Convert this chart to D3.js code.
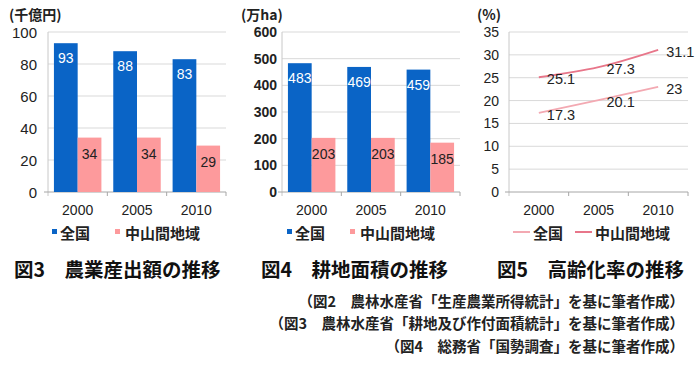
<!DOCTYPE html>
<html>
<head>
<meta charset="utf-8">
<script src="https://cdn.jsdelivr.net/npm/d3@7"></script>
<style>
  body { margin: 0; background: #fff; }
  svg text { font-family: "Liberation Sans", Arial, sans-serif; }
  .jp { font-family: "Noto Sans CJK JP", sans-serif !important; font-weight: bold; }
</style>
</head>
<body>
<svg id="chart" width="700" height="383"></svg>
<script>
var width = 700, height = 383;

// data
var years = ["2000", "2005", "2010"];
var seriesNames = ["全国", "中山間地域"];
var outputZenkoku = [93, 88, 83];
var outputChusankan = [34, 34, 29];
var areaZenkoku = [483, 469, 459];
var areaChusankan = [203, 203, 185];
var agingZenkoku = [17.3, 20.1, 23];
var agingChusankan = [25.1, 27.3, 31.1];
var titles = ["図3\u3000農業産出額の推移", "図4\u3000耕地面積の推移", "図5\u3000高齢化率の推移"];
var units = ["(千億円)", "(万ha)", "(%)"];
var sources = [
    "（図2\u3000農林水産省「生産農業所得統計」を基に筆者作成）",
    "（図3\u3000農林水産省「耕地及び作付面積統計」を基に筆者作成）",
    "（図4\u3000総務省「国勢調査」を基に筆者作成）"
];

var blue = "#0a64c6", pink = "#fd9a9c";
var lineLight = "#f3a9b2", lineDark = "#e8768a";
var gridCol = "#d9d9d9";

var svg = d3.select("#chart");
var plotTop = 32, plotBottom = 192;

function drawFrame(left, right, yMax, step, tickSize, tickGap, tickWeight) {
    var x = d3.scaleBand().domain(years).range([left, right]).paddingInner(0.2).paddingOuter(0.1);
    var y = d3.scaleLinear().domain([0, yMax]).range([plotBottom, plotTop]);
    var g = svg.append("g");
    // grid
    g.selectAll("line.grid")
        .data(d3.range(step, yMax + 0.01, step))
        .enter().append("line")
        .attr("x1", left).attr("x2", right)
        .attr("y1", d => y(d)).attr("y2", d => y(d))
        .attr("stroke", gridCol).attr("stroke-width", 1);
    // y labels
    g.selectAll("text.ytick")
        .data(d3.range(0, yMax + 0.01, step))
        .enter().append("text")
        .attr("x", left - tickGap).attr("y", d => y(d))
        .attr("text-anchor", "end").attr("dominant-baseline", "central")
        .attr("font-size", tickSize).attr("font-weight", tickWeight).attr("fill", "#222")
        .text(d => d);
    // axes
    g.append("line").attr("x1", left).attr("x2", left).attr("y1", plotTop).attr("y2", plotBottom + 4)
        .attr("stroke", "#c8c8c8");
    g.append("line").attr("x1", left - 4).attr("x2", right).attr("y1", plotBottom).attr("y2", plotBottom)
        .attr("stroke", "#a6a6a6");
    var bw = (right - left) / years.length;
    g.selectAll("line.xtick")
        .data(d3.range(1, years.length + 1))
        .enter().append("line")
        .attr("x1", d => left + d * bw).attr("x2", d => left + d * bw)
        .attr("y1", plotBottom).attr("y2", plotBottom + 4)
        .attr("stroke", "#a6a6a6");
    g.selectAll("text.xlab")
        .data(years)
        .enter().append("text")
        .attr("x", d => x(d) + x.bandwidth() / 2).attr("y", 215)
        .attr("text-anchor", "middle").attr("font-size", 14).attr("fill", "#222")
        .text(d => d);
    return {x: x, y: y, g: g};
}

function drawLegendText(lg, x, txt) {
    lg.append("text").attr("class", "jp").attr("x", x).attr("y", 0).attr("dominant-baseline", "central")
        .attr("font-size", 15).attr("fill", "#222").text(txt);
}

function drawBars(cfg) {
    var f = drawFrame(cfg.left, cfg.right, cfg.yMax, cfg.step, cfg.tickSize, cfg.tickGap, cfg.tickWeight);
    var x = f.x, y = f.y, g = f.g;
    var half = x.bandwidth() / 2;
    var rows = years.map((yr, i) => ({year: yr, a: cfg.a[i], b: cfg.b[i]}));
    g.selectAll("rect.a").data(rows).enter().append("rect")
        .attr("x", d => x(d.year)).attr("width", half)
        .attr("y", d => y(d.a)).attr("height", d => plotBottom - y(d.a))
        .attr("fill", blue);
    g.selectAll("rect.b").data(rows).enter().append("rect")
        .attr("x", d => x(d.year) + half).attr("width", half)
        .attr("y", d => y(d.b)).attr("height", d => plotBottom - y(d.b))
        .attr("fill", pink);
    g.selectAll("text.la").data(rows).enter().append("text")
        .attr("x", d => x(d.year) + half / 2).attr("y", d => y(d.a) + 15)
        .attr("text-anchor", "middle").attr("dominant-baseline", "central")
        .attr("font-size", 14).attr("fill", "#fff").text(d => d.a);
    g.selectAll("text.lb").data(rows).enter().append("text")
        .attr("x", d => x(d.year) + half * 1.5).attr("y", d => y(d.b) + 16)
        .attr("text-anchor", "middle").attr("dominant-baseline", "central")
        .attr("font-size", 14).attr("fill", "#222").text(d => d.b);
    // unit
    svg.append("text").attr("class", "jp").attr("x", cfg.unitX).attr("y", 14)
        .attr("dominant-baseline", "central").attr("font-size", 14).attr("fill", "#222")
        .text(units[cfg.idx]);
    // legend
    var lg = svg.append("g").attr("transform", `translate(${cfg.legendX},232)`);
    lg.append("rect").attr("x", 0).attr("y", -3).attr("width", 5).attr("height", 5).attr("fill", blue);
    drawLegendText(lg, 8, seriesNames[0]);
    lg.append("rect").attr("x", 63).attr("y", -3).attr("width", 5).attr("height", 5).attr("fill", pink);
    drawLegendText(lg, 73, seriesNames[1]);
    // title
    svg.append("text").attr("class", "jp").attr("x", cfg.titleX).attr("y", 268)
        .attr("dominant-baseline", "central").attr("font-size", 19.5).attr("fill", "#111")
        .text(titles[cfg.idx]);
}

drawBars({left: 48, right: 226, yMax: 100, step: 20, tickSize: 15, tickGap: 11, tickWeight: "normal",
    a: outputZenkoku, b: outputChusankan, unitX: 9, idx: 0, legendX: 52, titleX: 14});
drawBars({left: 282, right: 460, yMax: 600, step: 100, tickSize: 14, tickGap: 5, tickWeight: "bold",
    a: areaZenkoku, b: areaChusankan, unitX: 241, idx: 1, legendX: 287, titleX: 261});

// chart 3: lines
(function () {
    var left = 509, right = 688;
    var f = drawFrame(left, right, 35, 5, 14, 10, "normal");
    var x = f.x, y = f.y, g = f.g;
    var cx = d => x(d) + x.bandwidth() / 2;
    var line = d3.line()
        .x((d, i) => cx(years[i]))
        .y(d => y(d))
        .curve(d3.curveMonotoneX);
    [[agingZenkoku, lineLight], [agingChusankan, lineDark]].forEach(function (s) {
        g.append("path").datum(s[0]).attr("d", line)
            .attr("fill", "none").attr("stroke", s[1]).attr("stroke-width", 1.8);
        g.selectAll(null).data(s[0]).enter().append("text")
            .attr("x", (d, i) => cx(years[i]) + 8).attr("y", d => y(d) + 2)
            .attr("dominant-baseline", "central").attr("font-size", 14.5).attr("fill", "#222")
            .text(d => d);
    });
    svg.append("text").attr("class", "jp").attr("x", 477).attr("y", 14)
        .attr("dominant-baseline", "central").attr("font-size", 14).attr("fill", "#222")
        .text(units[2]);
    var lg = svg.append("g").attr("transform", "translate(513,232)");
    lg.append("line").attr("x1", 0).attr("x2", 17).attr("stroke", lineLight).attr("stroke-width", 2);
    drawLegendText(lg, 20, seriesNames[0]);
    lg.append("line").attr("x1", 62).attr("x2", 79).attr("stroke", lineDark).attr("stroke-width", 2);
    drawLegendText(lg, 82, seriesNames[1]);
    svg.append("text").attr("class", "jp").attr("x", 497).attr("y", 268)
        .attr("dominant-baseline", "central").attr("font-size", 19.5).attr("fill", "#111")
        .text(titles[2]);
})();

// sources
svg.selectAll("text.src").data(sources).enter().append("text")
    .attr("class", "jp")
    .attr("x", 684).attr("y", (d, i) => 300 + i * 22.5)
    .attr("text-anchor", "end").attr("dominant-baseline", "central")
    .attr("font-size", 14.5).attr("fill", "#222")
    .text(d => d);
</script>
</body>
</html>
